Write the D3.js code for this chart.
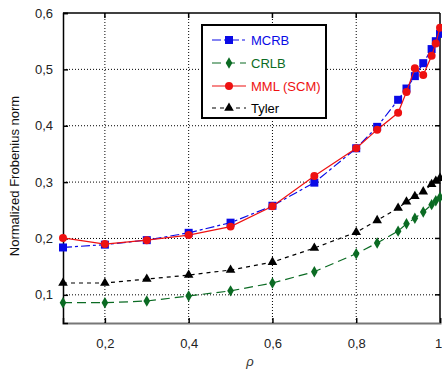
<!DOCTYPE html>
<meta charset="utf-8">
<script src="https://cdn.jsdelivr.net/npm/d3@7"></script>
<style>
  body { margin: 0; background: #fff; font-family: "Liberation Sans", Arial, sans-serif; }
  .tick text { fill: #222; font-size: 13px; }
</style>
<body>
<div id="chart"></div>
<script>
// rho values and the four curves
const rho   = [0.1, 0.2, 0.3, 0.4, 0.5, 0.6, 0.7, 0.8, 0.85, 0.9, 0.92, 0.94, 0.96, 0.98, 0.99, 1.0];
const mcrb  = [0.184, 0.189, 0.197, 0.210, 0.228, 0.258, 0.299, 0.360, 0.398, 0.446, 0.466, 0.488, 0.511, 0.536, 0.550, 0.563];
const crlb  = [0.086, 0.086, 0.089, 0.098, 0.107, 0.121, 0.141, 0.173, 0.192, 0.213, 0.226, 0.236, 0.247, 0.260, 0.267, 0.273];
const mml   = [0.201, 0.190, 0.197, 0.206, 0.221, 0.257, 0.311, 0.360, 0.393, 0.423, 0.460, 0.502, 0.490, 0.524, 0.546, 0.574];
const tyler = [0.121, 0.121, 0.128, 0.135, 0.144, 0.158, 0.183, 0.211, 0.232, 0.254, 0.265, 0.275, 0.283, 0.296, 0.302, 0.307];

const xTicks = [0.2, 0.4, 0.6, 0.8, 1];
const yTicks = [0.1, 0.2, 0.3, 0.4, 0.5, 0.6];

const W = 442, H = 372;
const m = {left: 63, right: 2, top: 13, bottom: 49};

const x = d3.scaleLinear().domain([0.1, 1]).range([m.left, W - m.right]);
const y = d3.scaleLinear().domain([0.05, 0.6]).range([H - m.bottom, m.top]);
const fmt = d => String(d).replace(".", ",");

const svg = d3.select("#chart").append("svg")
  .attr("width", W).attr("height", H);

// grid
svg.append("g").selectAll("line").data(xTicks.slice(0, -1)).join("line")
  .attr("x1", d => x(d)).attr("x2", d => x(d))
  .attr("y1", y(0.6)).attr("y2", y(0.05))
  .attr("stroke", "#000").attr("stroke-width", 1).attr("stroke-dasharray", "1,2");
svg.append("g").selectAll("line").data(yTicks.slice(0, -1)).join("line")
  .attr("x1", x(0.1)).attr("x2", x(1))
  .attr("y1", d => y(d)).attr("y2", d => y(d))
  .attr("stroke", "#000").attr("stroke-width", 1).attr("stroke-dasharray", "1,2");

// frame
svg.append("line").attr("x1", x(0.1)).attr("x2", x(1)).attr("y1", y(0.6)).attr("y2", y(0.6))
  .attr("stroke", "#000").attr("stroke-width", 1.5);
svg.append("line").attr("x1", x(1)).attr("x2", x(1)).attr("y1", y(0.6)).attr("y2", y(0.05))
  .attr("stroke", "#000").attr("stroke-width", 1.5);

// axes
const xAxis = svg.append("g").attr("transform", `translate(0,${y(0.05)})`)
  .call(d3.axisBottom(x).tickValues(xTicks).tickFormat(fmt).tickSize(-5).tickPadding(16));
xAxis.select(".domain").attr("stroke", "#777").attr("stroke-width", 2);
xAxis.selectAll(".tick line").attr("stroke", "#000").attr("stroke-width", 1.5);
// last label sits at the edge, nudge it in
xAxis.selectAll(".tick text").filter(d => d === 1).attr("dx", -2);

const yAxis = svg.append("g").attr("transform", `translate(${x(0.1)},0)`)
  .call(d3.axisLeft(y).tickValues(yTicks).tickFormat(fmt).tickSize(-5).tickPadding(10));
yAxis.select(".domain").attr("stroke", "#000").attr("stroke-width", 1.5);
yAxis.selectAll(".tick line").attr("stroke", "#000").attr("stroke-width", 1.5);

// top and right inner ticks
svg.append("g").selectAll("line").data(xTicks.slice(0, -1)).join("line")
  .attr("x1", d => x(d)).attr("x2", d => x(d))
  .attr("y1", y(0.6)).attr("y2", y(0.6) + 5)
  .attr("stroke", "#000").attr("stroke-width", 1.5);
svg.append("g").selectAll("line").data(yTicks.slice(0, -1)).join("line")
  .attr("x1", x(1) - 5).attr("x2", x(1))
  .attr("y1", d => y(d)).attr("y2", d => y(d))
  .attr("stroke", "#000").attr("stroke-width", 1.5);

// labels
svg.append("text").attr("transform", "translate(19,176) rotate(-90)")
  .attr("text-anchor", "middle").attr("font-size", 13).attr("fill", "#111")
  .text("Normalized Frobenius norm");
svg.append("text").attr("x", 250).attr("y", 366)
  .attr("text-anchor", "middle").attr("font-size", 13).attr("font-style", "italic")
  .attr("fill", "#333").text("ρ");

// series
const series = [
  {name: "MCRB", vals: mcrb, color: "#0a0ae6", dash: "9,3,3,3", marker: "square"},
  {name: "CRLB", vals: crlb, color: "#0b6b23", dash: "9,5", marker: "diamond"},
  {name: "MML (SCM)", vals: mml, color: "#ee1111", dash: null, marker: "circle"},
  {name: "Tyler", vals: tyler, color: "#000", dash: "4,4", marker: "triangle"}
];
const symbolOf = {
  square: d3.symbol(d3.symbolSquare, 64),
  diamond: d3.symbol(d3.symbolDiamond, 38),
  circle: d3.symbol(d3.symbolCircle, 50),
  triangle: d3.symbol(d3.symbolTriangle, 40)
};

const line = d3.line().x(d => x(d[0])).y(d => y(d[1]));
const order = [1, 3, 0, 2];
order.forEach(i => {
  const s = series[i];
  const pts = rho.map((r, k) => [r, s.vals[k]]);
  svg.append("path").datum(pts).attr("d", line)
    .attr("fill", "none").attr("stroke", s.color).attr("stroke-width", 1.2)
    .attr("stroke-dasharray", s.dash);
  svg.append("g").selectAll("path").data(pts).join("path")
    .attr("transform", d => `translate(${x(d[0])},${y(d[1])})`)
    .attr("d", symbolOf[s.marker]).attr("fill", s.color);
});

// legend
const lg = svg.append("g");
lg.append("rect").attr("x", 202).attr("y", 25).attr("width", 124).attr("height", 93)
  .attr("fill", "#fff").attr("stroke", "#000").attr("stroke-width", 2);
const rowY = [40, 63, 86, 108];
series.forEach((s, i) => {
  lg.append("line").attr("x1", 212).attr("x2", 246).attr("y1", rowY[i]).attr("y2", rowY[i])
    .attr("stroke", s.color).attr("stroke-width", 1.2).attr("stroke-dasharray", s.dash);
  lg.append("path").attr("transform", `translate(229,${rowY[i]})`)
    .attr("d", symbolOf[s.marker]).attr("fill", s.color);
  lg.append("text").attr("x", 251).attr("y", rowY[i] + 5).attr("font-size", 13)
    .attr("fill", s.color).text(s.name);
});
</script>
</body>
